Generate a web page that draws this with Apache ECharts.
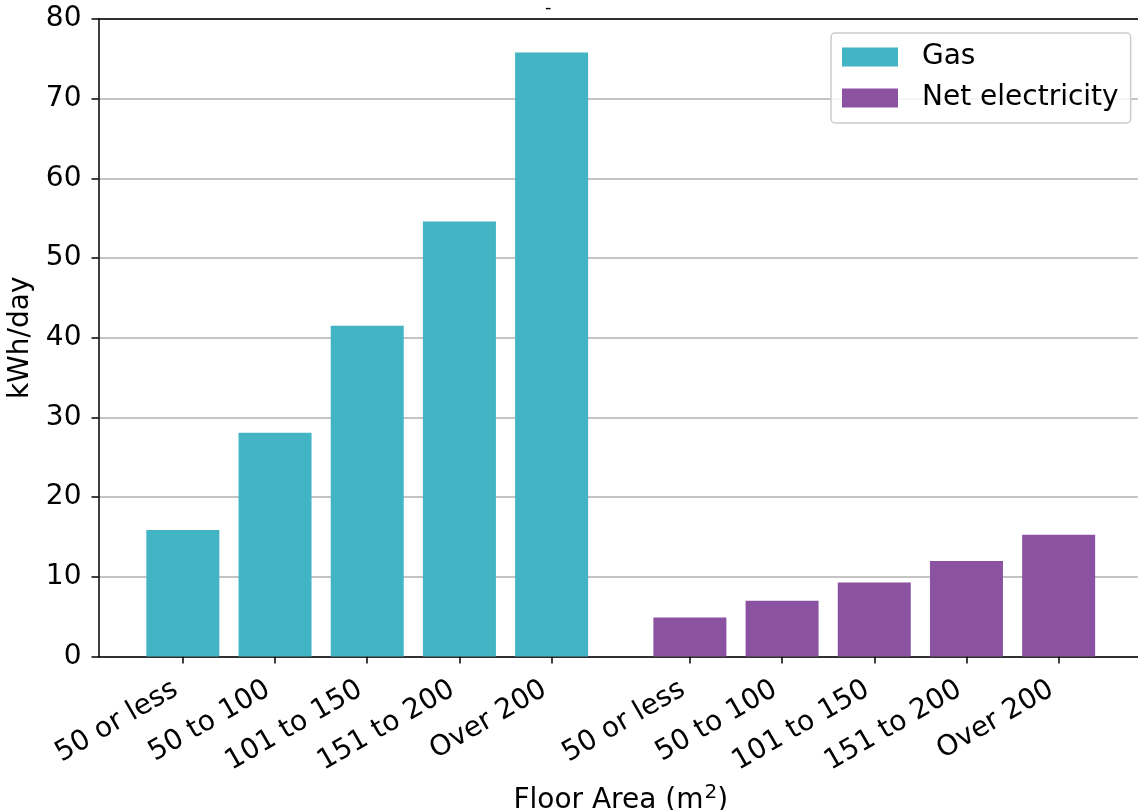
<!DOCTYPE html>
<html>
<head>
<meta charset="utf-8">
<script src="https://cdn.jsdelivr.net/npm/echarts@6/dist/echarts.min.js"></script>
<style>
  html, body { margin: 0; padding: 0; background: #fff; }
  #chart { width: 1138px; height: 810px; }
</style>
</head>
<body>
<div id="chart"></div>
<script>
// floor area bands, used for both groups
const categories = ['50 or less', '50 to 100', '101 to 150', '151 to 200', 'Over 200']
// bar centres on the x axis (gap of 1.5 between the two groups)
const gasPositions = [0, 1, 2, 3, 4]
const elecPositions = [5.5, 6.5, 7.5, 8.5, 9.5]
// kWh/day
const gasValues = [15.9, 28.1, 41.5, 54.6, 75.8]
const elecValues = [4.9, 7.0, 9.3, 12.0, 15.3]
const yTicks = [0, 10, 20, 30, 40, 50, 60, 70, 80]

const FONT = 'DejaVu Sans'
const FS = 28
const X_MIN = -0.915
const X_MAX = 10.415
const allPositions = gasPositions.concat(elecPositions)

function labelFor(v) {
  const i = allPositions.findIndex(p => Math.abs(p - v) < 1e-6)
  return i < 0 ? '' : categories[i % categories.length]
}

const chart = echarts.init(document.getElementById('chart'))

const option = {
  animation: false,
  backgroundColor: '#ffffff',
  textStyle: { fontFamily: FONT },
  title: {
    text: '-',
    left: 540,
    top: -6,
    textStyle: { fontFamily: FONT, fontSize: 18, fontWeight: 'normal', color: '#000' }
  },
  legend: {
    orient: 'vertical',
    left: 831,
    top: 33,
    padding: [10, 12, 11, 11],
    itemWidth: 56,
    itemHeight: 19,
    itemGap: 13,
    icon: 'rect',
    backgroundColor: 'rgba(255,255,255,0.85)',
    borderColor: '#cccccc',
    borderWidth: 1.5,
    borderRadius: 4,
    textStyle: {
      fontFamily: FONT,
      fontSize: FS,
      color: '#000',
      padding: [0, 0, 0, 19]
    },
    data: ['Gas', 'Net electricity']
  },
  // right edge of the axes sits just past the canvas, as in the source
  grid: {
    left: 98.5,
    top: 19,
    right: -5,
    height: 637.6,
    outerBoundsMode: 'none'
  },
  xAxis: [
    {
      type: 'value',
      min: X_MIN,
      max: X_MAX,
      name: 'Floor Area (m{sup|2})',
      nameLocation: 'middle',
      nameGap: 121,
      nameTextStyle: {
        fontFamily: FONT,
        fontSize: FS,
        color: '#000',
        rich: {
          sup: { fontFamily: FONT, fontSize: 20, color: '#000', verticalAlign: 'top', padding: [0, 0, 16, 1] }
        }
      },
      axisLine: { show: true, onZero: false, lineStyle: { color: '#000', width: 1.5 } },
      axisTick: {
        show: true,
        customValues: allPositions,
        length: 7,
        lineStyle: { color: '#000', width: 1.5 }
      },
      axisLabel: {
        customValues: allPositions,
        rotate: 30,
        align: 'right',
        verticalAlign: 'bottom',
        margin: 43,
        fontFamily: FONT,
        fontSize: FS,
        color: '#000',
        formatter: labelFor
      },
      splitLine: { show: false }
    },
    {
      // top spine only
      type: 'value',
      position: 'top',
      min: X_MIN,
      max: X_MAX,
      axisLine: { show: true, onZero: false, lineStyle: { color: '#000', width: 1.5 } },
      axisTick: { show: false },
      axisLabel: { show: false },
      splitLine: { show: false }
    }
  ],
  yAxis: {
    type: 'value',
    min: yTicks[0],
    max: yTicks[yTicks.length - 1],
    interval: 10,
    name: 'kWh/day',
    nameLocation: 'middle',
    nameGap: 57,
    nameTextStyle: { fontFamily: FONT, fontSize: FS, color: '#000' },
    axisLine: { show: true, onZero: false, lineStyle: { color: '#000', width: 1.5 } },
    axisTick: { show: true, length: 7, lineStyle: { color: '#000', width: 1.5 } },
    axisLabel: { fontFamily: FONT, fontSize: FS, color: '#000', margin: 17 },
    splitLine: { show: true, lineStyle: { color: '#b0b0b0', width: 1.6 } }
  },
  series: [
    {
      name: 'Gas',
      type: 'bar',
      barWidth: 73,
      barGap: '-100%',
      itemStyle: { color: '#42b4c4' },
      data: gasPositions.map((x, i) => [x, gasValues[i]])
    },
    {
      name: 'Net electricity',
      type: 'bar',
      barWidth: 73,
      barGap: '-100%',
      itemStyle: { color: '#8b52a2' },
      data: elecPositions.map((x, i) => [x, elecValues[i]])
    }
  ]
}

chart.setOption(option)
</script>
</body>
</html>
